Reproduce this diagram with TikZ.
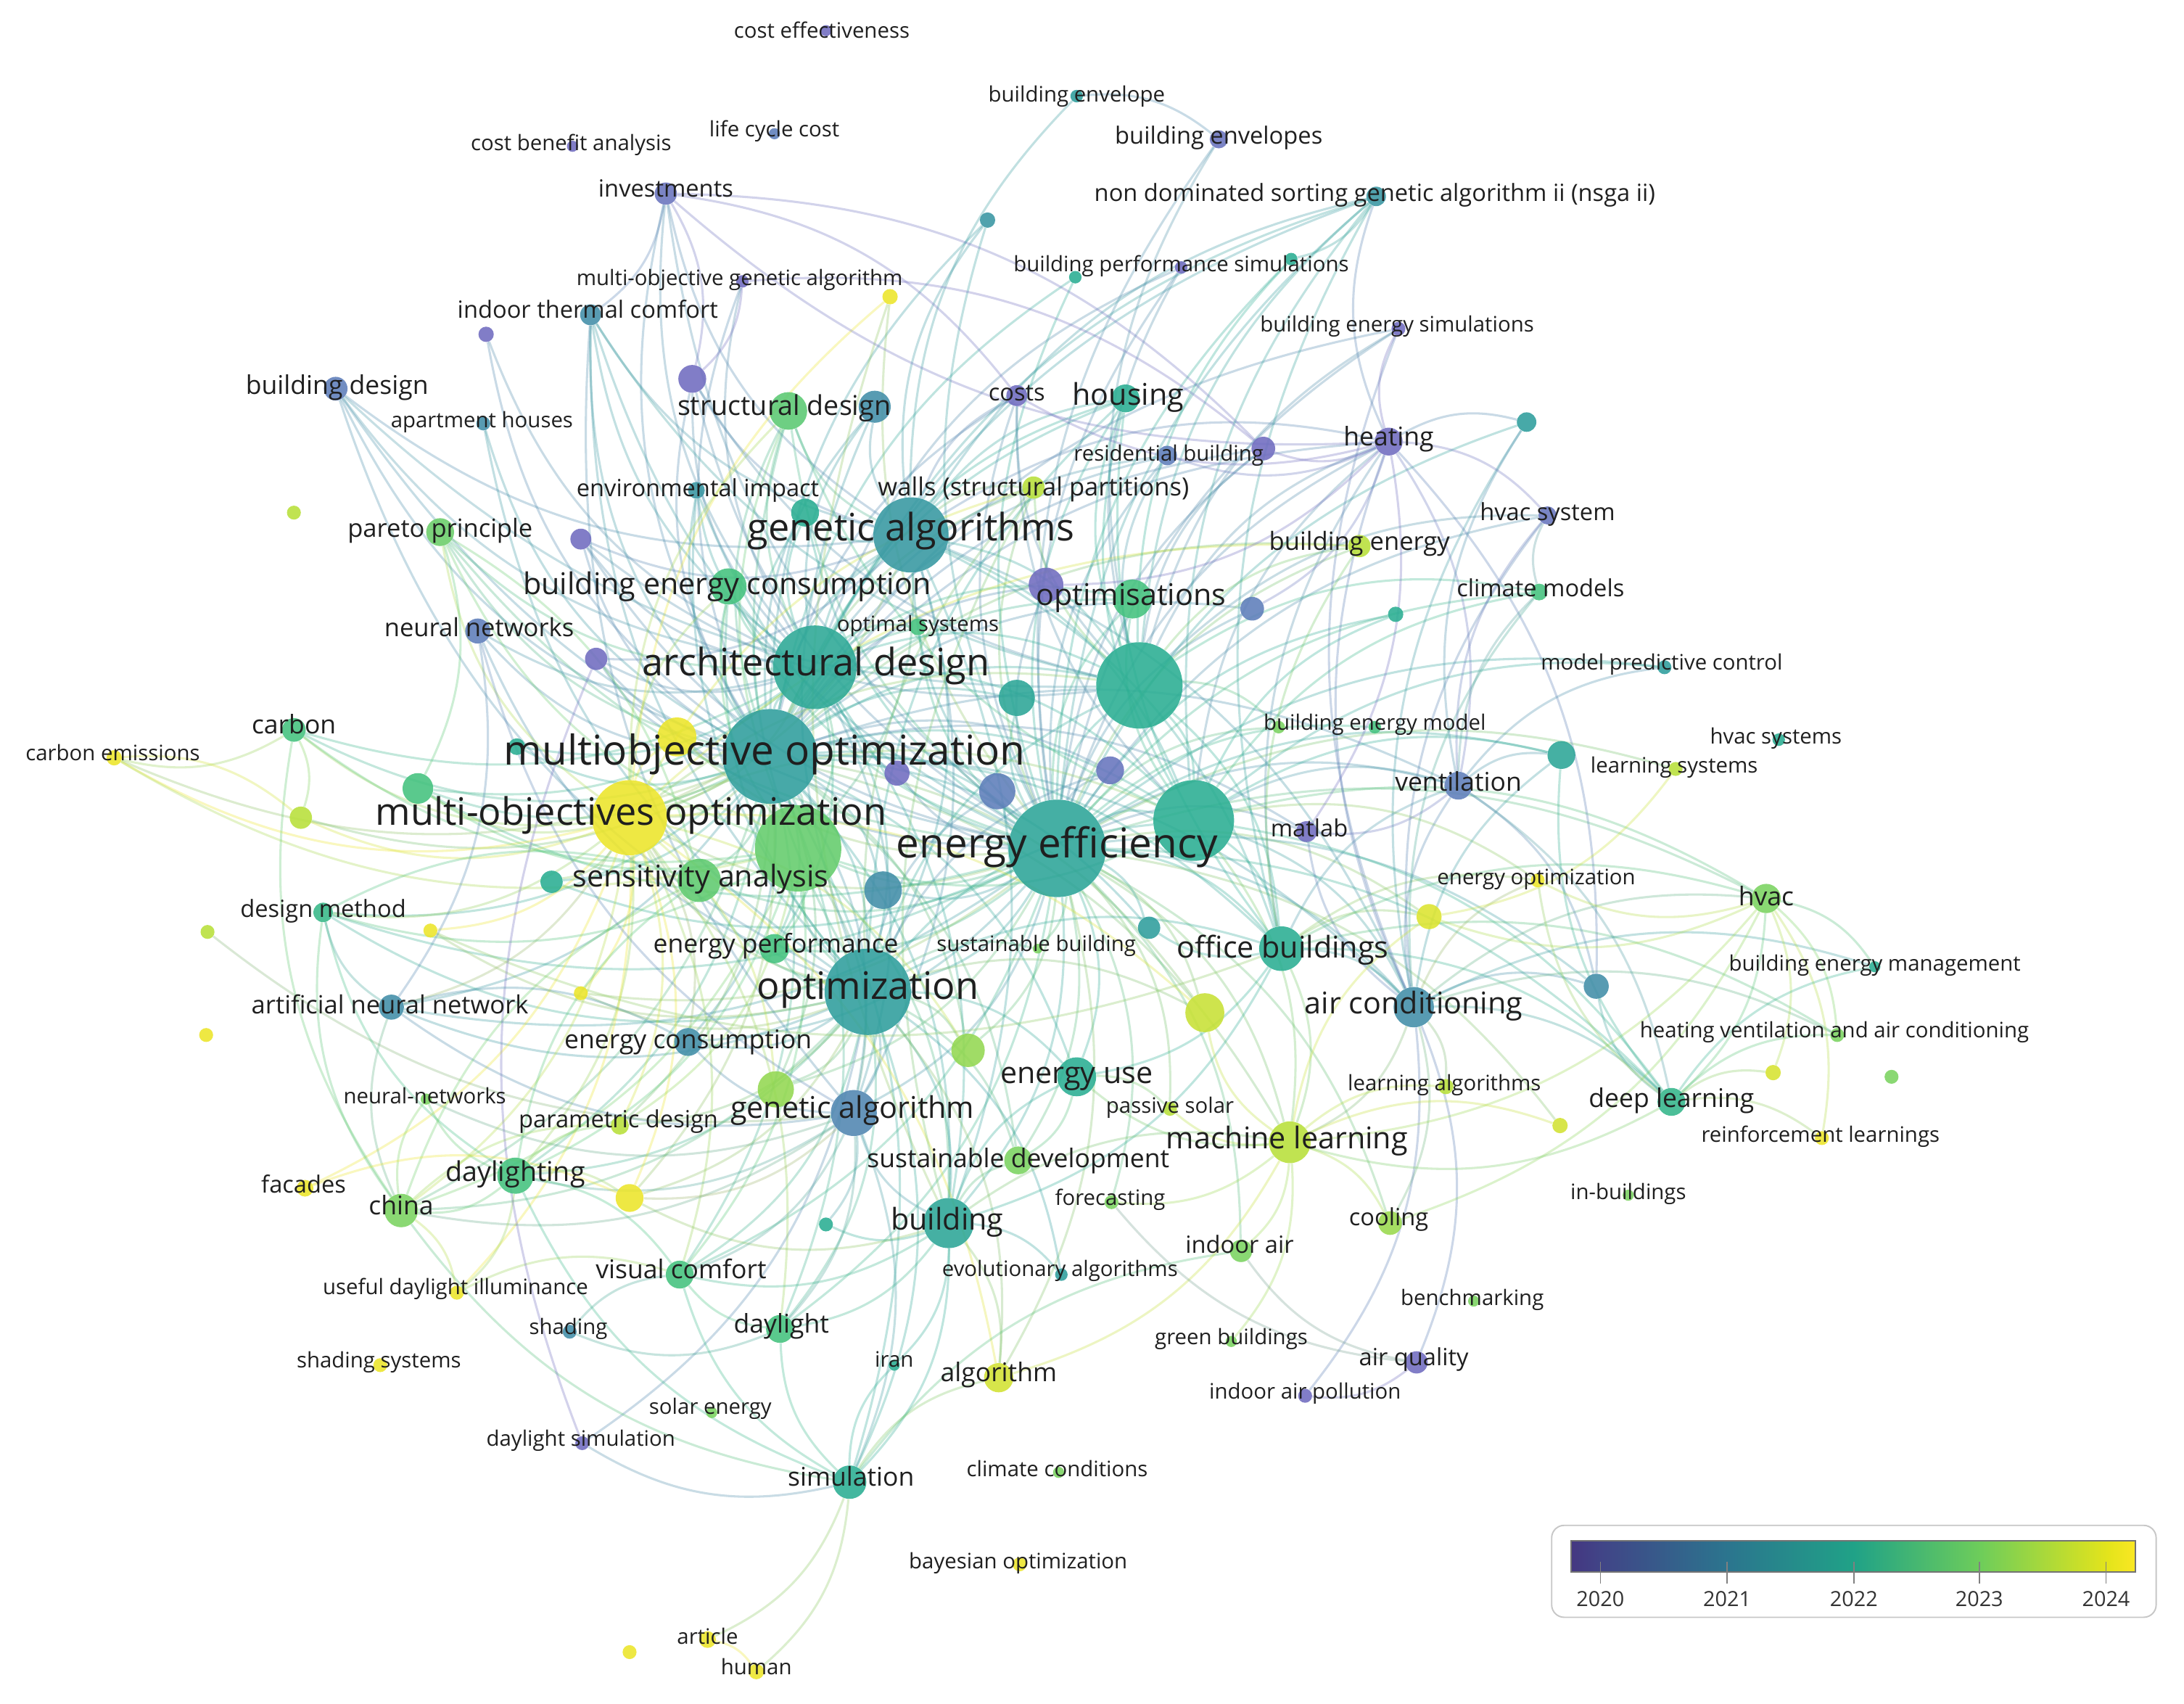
\documentclass[tikz,border=0pt]{standalone}
\usepackage{fontspec}
\setmainfont{Open Sans}
\pgfdeclarelayer{bgw}
\pgfdeclarelayer{edges}
\pgfsetlayers{bgw,edges,main}
\definecolor{c0}{RGB}{112,108,192}
\definecolor{c1}{RGB}{94,126,186}
\definecolor{c2}{RGB}{66,142,168}
\definecolor{c3}{RGB}{46,158,156}
\definecolor{c4}{RGB}{42,174,146}
\definecolor{c5}{RGB}{68,194,126}
\definecolor{c6}{RGB}{122,211,96}
\definecolor{c7}{RGB}{184,224,58}
\definecolor{c8}{RGB}{236,229,42}
\definecolor{v0}{RGB}{68,55,129}
\definecolor{v1}{RGB}{65,68,135}
\definecolor{v2}{RGB}{43,117,142}
\definecolor{v3}{RGB}{32,162,135}
\definecolor{v4}{RGB}{110,205,90}
\definecolor{v5}{RGB}{228,228,27}
\definecolor{v6}{RGB}{250,231,35}
\pgfdeclarehorizontalshading{viri}{100bp}{color(0bp)=(v0); color(25bp)=(v0); color(27.6bp)=(v1); color(38.9bp)=(v2); color(50.1bp)=(v3); color(61.3bp)=(v4); color(72.6bp)=(v5); color(75bp)=(v6); color(100bp)=(v6)}
\tikzset{
  nd/.style={circle,inner sep=0pt,draw=none,fill opacity=0.88},
  edg/.style={line width=1.6pt,draw opacity=0.3},
  lab/.style={inner sep=0pt,text=black!88,anchor=base},
  la1/.style={lab,font=\fontsize{15.3}{16}\selectfont,yshift=-4.1pt},
  la2/.style={lab,font=\fontsize{17}{18}\selectfont,yshift=-4.55pt},
  la2b/.style={lab,font=\fontsize{18}{19}\selectfont,yshift=-4.8pt},
  la3/.style={lab,font=\fontsize{18.5}{19}\selectfont,yshift=-4.95pt},
  la3b/.style={lab,font=\fontsize{19.6}{20}\selectfont,yshift=-5.25pt},
  la4/.style={lab,font=\fontsize{21.5}{22}\selectfont,yshift=-5.75pt},
  la5/.style={lab,font=\fontsize{27.2}{28}\selectfont,yshift=-7.3pt},
  la6/.style={lab,font=\fontsize{29.5}{30}\selectfont,yshift=-7.9pt},
  legtxt/.style={inner sep=0pt,text=black!80,font=\fontsize{15}{16}\selectfont}
}
\newcommand\VN[5]{\colorlet{nc#1}{#5}\node[nd,fill=#5,minimum size={2*#4pt}] (#1) at (#2,#3) {};}
\newcommand\VL[4]{\node[#3] at (#1,#2) {#4};}
\newcommand\Hub[2]{\foreach \b in {#2}{\colorlet{ec}{nc#1!50!nc\b}\draw[edg,draw=ec] (#1) to[bend left=22] (\b);}}
\begin{document}
\begin{tikzpicture}[x=1pt,y=-1pt]
\begin{pgfonlayer}{bgw}
\fill[white] (0,0) rectangle (1568,1223);
\end{pgfonlayer}
\useasboundingbox (0,0) rectangle (1568,1223);
% ---------- nodes ----------
\VN{ce}{593}{22}{4}{c0}
\VN{benv}{773}{69}{4.5}{c3}
\VN{benvs}{875}{100}{6.5}{c0!60!c1}
\VN{lcc}{556}{96}{4}{c1}
\VN{cba}{411}{105}{4}{c0}
\VN{inv}{478}{139}{8}{c0!60!c1}
\VN{nsga}{988}{141}{7}{c2!50!c3}
\VN{u1}{709}{158}{5.5}{c2!50!c3}
\VN{mga}{533}{202}{4.5}{c0}
\VN{u2}{639}{213}{5.5}{c8}
\VN{bpsa}{772}{199}{4.5}{c4}
\VN{bps}{848}{192}{4.5}{c0}
\VN{bpsb}{927}{186}{4.5}{c4}
\VN{itc}{424}{226}{7.5}{c2}
\VN{u3}{349}{240}{5.5}{c0}
\VN{bd}{241}{279}{8.5}{c1}
\VN{ah}{347}{304}{5}{c2}
\VN{u4}{497}{272}{10}{c0}
\VN{sd}{566}{295}{13.5}{c5!60!c6}
\VN{u5}{628}{292}{11.5}{c2}
\VN{costs}{730}{284}{7.5}{c0}
\VN{hous}{808}{286}{10}{c4}
\VN{bes}{1004}{236}{5}{c0}
\VN{heat}{997}{317}{10}{c0}
\VN{u6}{1096}{303}{7}{c3}
\VN{rb}{838}{327}{7}{c1}
\VN{u7}{907}{322}{8.5}{c0}
\VN{walls}{742}{350}{8}{c7}
\VN{ei}{500}{352}{6}{c2!50!c3}
\VN{u8}{578}{368}{10}{c4}
\VN{gas}{654}{384}{27}{c2!40!c3}
\VN{u9}{211}{368}{5}{c7}
\VN{pp}{316}{382}{10}{c6!70!c5}
\VN{u10}{417}{387}{7.5}{c0}
\VN{hvs}{1111}{370}{6.5}{c0!50!c1}
\VN{be}{976}{392}{8}{c7}
\VN{bec}{523}{421}{13}{c5}
\VN{optim}{813}{430}{14}{c5}
\VN{u11}{751}{420}{12.5}{c0}
\VN{u12}{899}{437}{8.5}{c1}
\VN{u13}{1002}{441}{5.5}{c4}
\VN{cm}{1105}{425}{6}{c5}
\VN{nn}{343}{453}{9}{c1}
\VN{os}{659}{450}{6}{c5}
\VN{u14}{428}{473}{8}{c0}
\VN{ad}{585}{479}{30}{c3!40!c4}
\VN{u15t}{730}{501}{13}{c3!50!c4}
\VN{bt1}{818}{492}{31}{c4}
\VN{mpc}{1195}{479}{5}{c3}
\VN{bema}{918}{522}{4.5}{c6}
\VN{bemb}{987}{522}{4.5}{c5}
\VN{carb}{211}{524}{8.5}{c5}
\VN{cem}{82}{544}{5.5}{c8}
\VN{u15}{486}{529}{14}{c8}
\VN{u16t}{371}{536}{6}{c4}
\VN{moo}{553}{543}{34}{c3}
\VN{hvacs}{1277}{531}{4.5}{c4}
\VN{ls}{1203}{552}{5}{c7}
\VN{u17}{1121}{542}{10}{c3!50!c4}
\VN{vent}{1047}{564}{10}{c1}
\VN{u18}{644}{555}{9}{c0}
\VN{u19}{797}{553}{10}{c0!50!c1}
\VN{u20}{716}{568}{13}{c1}
\VN{u21}{300}{566}{11}{c5}
\VN{u22}{216}{587}{8}{c7}
\VN{mos}{452}{587}{27}{c8}
\VN{bg1}{573}{609}{31}{c6!60!c5}
\VN{bt2}{857}{589}{29}{c4}
\VN{ee}{759}{609}{35}{c3!60!c4}
\VN{matlab}{938}{597}{7.5}{c0}
\VN{sa}{502}{632}{15.5}{c5!50!c6}
\VN{u23}{396}{633}{8}{c4}
\VN{u24}{634}{639}{13.5}{c2}
\VN{dm}{232}{655}{7}{c4!50!c5}
\VN{u25}{149}{669}{5}{c7}
\VN{u26}{309}{668}{5}{c8}
\VN{eo}{1104}{632}{5}{c8}
\VN{hvac}{1268}{645}{10.5}{c6}
\VN{u27}{1026}{658}{9}{c8!70!c7}
\VN{ep}{556}{681}{10.5}{c5}
\VN{sb}{745}{681}{3.5}{c6}
\VN{u28}{825}{666}{8}{c3}
\VN{ob}{920}{681}{16}{c4}
\VN{bemg}{1346}{694}{4}{c4}
\VN{opt}{623}{712}{31}{c3}
\VN{u29}{417}{713}{5}{c8}
\VN{ann}{281}{723}{9}{c2}
\VN{u30}{148}{743}{5}{c8}
\VN{u31}{1146}{708}{9}{c2}
\VN{ac}{1015}{723}{14.5}{c2}
\VN{u32}{865}{727}{14}{c7!70!c8}
\VN{ec}{494}{748}{10}{c2}
\VN{u33}{695}{754}{12}{c6!60!c7}
\VN{hvaca}{1319}{743}{5}{c6}
\VN{u34}{1273}{770}{5.5}{c8!60!c7}
\VN{u35}{1358}{773}{5}{c6}
\VN{eu}{773}{773}{14}{c4}
\VN{la}{1038}{780}{5.5}{c7}
\VN{nnets}{306}{789}{4}{c6}
\VN{u36}{557}{782}{13}{c6!60!c7}
\VN{ga}{613}{799}{16.5}{c1!50!c2}
\VN{ps}{840}{796}{5}{c7}
\VN{dl}{1200}{791}{10}{c4!60!c5}
\VN{u37}{1120}{808}{5.5}{c7!50!c8}
\VN{pd}{445}{808}{6.5}{c7}
\VN{ml}{926}{820}{15}{c7}
\VN{rl}{1308}{817}{5}{c8}
\VN{sdev}{731}{833}{10}{c6}
\VN{dlt}{370}{844}{13}{c5}
\VN{fac}{219}{853}{6}{c8}
\VN{u38}{452}{860}{10}{c8}
\VN{china}{288}{869}{12}{c6}
\VN{u39}{593}{879}{5}{c4}
\VN{bldg}{681}{878}{18}{c3!50!c4}
\VN{fc}{798}{863}{5}{c6}
\VN{ib}{1169}{858}{4}{c6}
\VN{cool}{998}{878}{8.5}{c6!50!c7}
\VN{ia}{891}{898}{8}{c6}
\VN{vc}{488}{915}{10}{c5}
\VN{evo}{762}{915}{4.5}{c3}
\VN{udi}{328}{928}{5}{c8}
\VN{bm}{1058}{934}{4}{c6}
\VN{dayl}{560}{954}{10}{c5}
\VN{shd}{409}{956}{5}{c2}
\VN{gb}{884}{963}{4}{c6}
\VN{iran}{642}{980}{4}{c4}
\VN{ss}{273}{980}{5}{c8}
\VN{aq}{1017}{978}{8}{c0}
\VN{alg}{717}{989}{10.5}{c7!50!c8}
\VN{iap}{937}{1002}{5}{c0}
\VN{se}{511}{1014}{4}{c6}
\VN{dsim}{418}{1036}{5}{c0}
\VN{sim}{610}{1064}{12}{c4}
\VN{cc}{760}{1057}{4}{c6}
\VN{bo}{732}{1123}{5}{c8}
\VN{u40}{452}{1186}{5}{c8}
\VN{art}{508}{1177}{6}{c8}
\VN{hum}{543}{1200}{5.5}{c8}
% ---------- edges ----------
\begin{pgfonlayer}{edges}
\Hub{moo}{ee,ad,gas,opt,mos,bg1,bt1,bt2,bldg,ga,ob,eu,sa,bec,optim,hous,sd,ac,heat,vent,u15t,u20,u24,u19,u18,ep,ec,u15,u36,u33,u32,ml,sdev,dlt,vc,sim,u14,u10,nn,pp,ei,u8,u5,u4,itc,bd,ah,u3,inv,mga,costs,rb,u7,walls,be,bes,u11,u12,os,u16t,u21,u22,carb,cem,matlab,u23,dm,ann,u28,pd,u38,nsga,u1,bpsa,china,dayl}
\Hub{ee}{ad,gas,opt,mos,bg1,bt1,bt2,bldg,ga,ob,ac,eu,ml,heat,vent,hous,optim,bec,sd,u15t,u20,u19,u24,u17,u27,u32,u28,sdev,matlab,cool,alg,sa,ep,walls,be,costs,rb,u7,u12,u13,cm,mpc,u6,u4,u11,u10,itc,bd,inv,u8,ei,u14,nsga,u1,u2,bpsa,bps,bpsb,benvs,hvs,os,bema,bemb,u15,u18,u21,u23,u29,ann,u31,ec,u33,u36,ps,u37,fc,ia,sb,ls,pp,bes,hvac,dl,vc,dayl,dm}
\Hub{ad}{gas,opt,mos,bg1,bt1,bt2,bldg,ga,sd,bec,optim,u14,u10,nn,pp,ei,os,u4,u5,inv,itc,bd,u3,mga,rb,bps,nsga,u16t,u21,ep,carb,u8,hous}
\Hub{gas}{opt,mos,bt1,bt2,bg1,bldg,ga,sd,u5,u8,hous,costs,walls,ob,ac,heat,benv,u1,nsga,itc,bd,inv,u4,u10,u14}
\Hub{opt}{mos,bg1,bt1,bt2,bldg,ga,ob,eu,ec,ann,sim,dayl,vc,dlt,china,ep,sdev,alg,u36,u33,u24,sa,dsim,u38,u29,nn,sd,u5,hous,walls,ei,bd,ah,itc,bec,u19,u20,u32,dm,u26,evo,sb,pd}
\Hub{mos}{bg1,bt1,bt2,sa,u15,u21,u22,carb,cem,pp,dm,u26,u29,pd,u38,fac,dlt,china,u2,be,u32,alg,ec,u23,sd,walls,u33,u36,ann,bec,vc,dayl,udi}
\Hub{bt1}{bt2,ob,heat,hous,costs,optim,nsga,benvs,bps,bpsb,bes,hvs,cm,u7,rb,u4,bd,itc,walls,be,bema,u10}
\Hub{bt2}{ob,ac,vent,heat,u17,mpc,u13,cm,eo,ml,sd,hous,costs,nsga,bg1,optim,hvac,dl}
\Hub{bg1}{sa,bldg,ga,sd,pp,carb,cem,bec,ep,u21,china,dlt,vc,pd,dm}
\Hub{ob}{ac,ml,eu,bldg,hvac,heat,vent,u27,eo,u26,hous,be,u28,nsga,dl,hvaca}
\Hub{ac}{heat,vent,dl,ml,aq,hvac,hvs,cm,matlab,la,cool,u31,iap,bes,eo,u6,u17,hvaca,bemg}
\Hub{bldg}{ga,sim,ml,sdev,eu,alg,evo,u39,walls,u2,vc,dayl,iran,u38}
\Hub{ga}{sim,ann,ec,nn,nnets,china,vc,dayl,u39,itc,u25,dlt,u38}
\Hub{sim}{art,hum,dayl,vc,iran,dsim,alg,ia,china,dlt}
\Hub{heat}{vent,hvs,u7,rb,bes,costs,inv,matlab,u12,u11,nsga,u31,u6}
\Hub{vent}{hvs,u17,u31,matlab,mpc,cm,dl,u6}
\Hub{hvac}{dl,hvaca,bemg,rl,u34,u27,eo,ml,cool}
\Hub{dl}{hvaca,u31,bemg,u17,ml,rl,eo,u34}
\Hub{ml}{la,cool,ia,ps,fc,u27,u32,alg,gb,u37,eu}
\Hub{aq}{iap,ia,fc}
\Hub{dlt}{china,vc,pd,dm,udi,u38,nnets,sa}
\Hub{china}{dm,nnets,udi,carb,ann,pd,sa}
\Hub{carb}{cem,u22}
\Hub{cem}{u22}
\Hub{pp}{sa,u21}
\Hub{dayl}{shd,vc}
\Hub{shd}{vc}
\Hub{udi}{vc}
\Hub{dsim}{u14}
\Hub{art}{hum}
\Hub{benv}{benvs}
\Hub{inv}{u4,costs,u7,itc}
\Hub{mga}{u7,u4}
\Hub{nsga}{bpsb}
\Hub{ls}{u27}
\Hub{nn}{ann}
\Hub{ann}{ec,dm}
\Hub{dm}{sa}
\Hub{eu}{ps,sdev}
\Hub{fac}{u38}
\Hub{cm}{hvs}
\end{pgfonlayer}
% ---------- labels ----------
\VL{590}{23}{la1}{cost effectiveness}
\VL{773}{69}{la1}{building envelope}
\VL{875}{99}{la2}{building envelopes}
\VL{556}{94}{la1}{life cycle cost}
\VL{410}{104}{la1}{cost benefit analysis}
\VL{478}{137}{la2}{investments}
\VL{987}{140}{la2}{non dominated sorting genetic algorithm ii (nsga ii)}
\VL{531}{201}{la1}{multi-objective genetic algorithm}
\VL{848}{191}{la1}{building performance simulations}
\VL{422}{224}{la2}{indoor thermal comfort}
\VL{1003}{234}{la1}{building energy simulations}
\VL{242}{278}{la3}{building design}
\VL{346}{303}{la1}{apartment houses}
\VL{563}{293}{la3b}{structural design}
\VL{730}{283}{la2}{costs}
\VL{810}{285}{la4}{housing}
\VL{997}{315}{la3}{heating}
\VL{839}{327}{la1}{residential building}
\VL{501}{352}{la2}{environmental impact}
\VL{742}{351}{la2b}{walls (structural partitions)}
\VL{654}{381}{la5}{genetic algorithms}
\VL{316}{381}{la2b}{pareto principle}
\VL{1111}{369}{la2}{hvac system}
\VL{976}{390}{la2b}{building energy}
\VL{522}{421}{la4}{building energy consumption}
\VL{812}{429}{la4}{optimisations}
\VL{1106}{424}{la2}{climate models}
\VL{344}{452}{la2b}{neural networks}
\VL{659}{449}{la1}{optimal systems}
\VL{586}{478}{la5}{architectural design}
\VL{1193}{477}{la1}{model predictive control}
\VL{987}{520}{la1}{building energy model}
\VL{211}{522}{la3}{carbon}
\VL{81}{542}{la1}{carbon emissions}
\VL{1275}{530}{la1}{hvac systems}
\VL{549}{541}{la6}{multiobjective optimization}
\VL{1202}{551}{la1}{learning systems}
\VL{1047}{563}{la3}{ventilation}
\VL{453}{585}{la5}{multi-objectives optimization}
\VL{759}{608}{la6}{energy efficiency}
\VL{940}{596}{la2}{matlab}
\VL{503}{631}{la4}{sensitivity analysis}
\VL{1103}{631}{la1}{energy optimization}
\VL{232}{654}{la2}{design method}
\VL{1268}{645}{la3}{hvac}
\VL{557}{679}{la3}{energy performance}
\VL{744}{679}{la1}{sustainable building}
\VL{921}{682}{la4}{office buildings}
\VL{1346}{693}{la1}{building energy management}
\VL{623}{710}{la5}{optimization}
\VL{280}{723}{la2b}{artificial neural network}
\VL{1015}{722}{la4}{air conditioning}
\VL{1317}{741}{la1}{heating ventilation and air conditioning}
\VL{494}{748}{la3}{energy consumption}
\VL{773}{772}{la4}{energy use}
\VL{1037}{779}{la1}{learning algorithms}
\VL{305}{788}{la1}{neural-networks}
\VL{444}{805}{la2}{parametric design}
\VL{612}{797}{la4}{genetic algorithm}
\VL{840}{795}{la1}{passive solar}
\VL{1200}{790}{la3}{deep learning}
\VL{1307}{816}{la1}{reinforcement learnings}
\VL{924}{819}{la4}{machine learning}
\VL{731}{833}{la3}{sustainable development}
\VL{370}{843}{la3b}{daylighting}
\VL{218}{852}{la2}{facades}
\VL{1169}{857}{la1}{in-buildings}
\VL{288}{867}{la3}{china}
\VL{797}{861}{la1}{forecasting}
\VL{680}{877}{la4}{building}
\VL{997}{875}{la2}{cooling}
\VL{890}{895}{la2}{indoor air}
\VL{489}{913}{la3}{visual comfort}
\VL{761}{912}{la1}{evolutionary algorithms}
\VL{327}{925}{la1}{useful daylight illuminance}
\VL{1057}{933}{la1}{benchmarking}
\VL{561}{952}{la3}{daylight}
\VL{408}{954}{la1}{shading}
\VL{884}{961}{la1}{green buildings}
\VL{642}{977}{la1}{iran}
\VL{272}{978}{la1}{shading systems}
\VL{1015}{976}{la2}{air quality}
\VL{717}{987}{la3}{algorithm}
\VL{937}{1000}{la1}{indoor air pollution}
\VL{510}{1011}{la1}{solar energy}
\VL{417}{1034}{la1}{daylight simulation}
\VL{611}{1062}{la3}{simulation}
\VL{759}{1056}{la1}{climate conditions}
\VL{731}{1122}{la1}{bayesian optimization}
\VL{508}{1176}{la1}{article}
\VL{543}{1198}{la1}{human}
% ---------- legend ----------
\draw[draw=black!22,line width=1pt,fill=white,rounded corners=9pt] (1114,1095) rectangle (1548,1161);
\shade[shading=viri] (1128,1106) rectangle (1533,1128.5);
\draw[draw=black!55,line width=1pt] (1128,1106) rectangle (1533,1128.5);
\foreach \x/\t in {1149/2020,1240/2021,1331/2022,1421/2023,1512/2024}{
  \draw[draw=black!50,line width=0.9pt] (\x,1121) -- (\x,1137);
  \node[legtxt] at (\x,1148) {\t};
}
\end{tikzpicture}
\end{document}
